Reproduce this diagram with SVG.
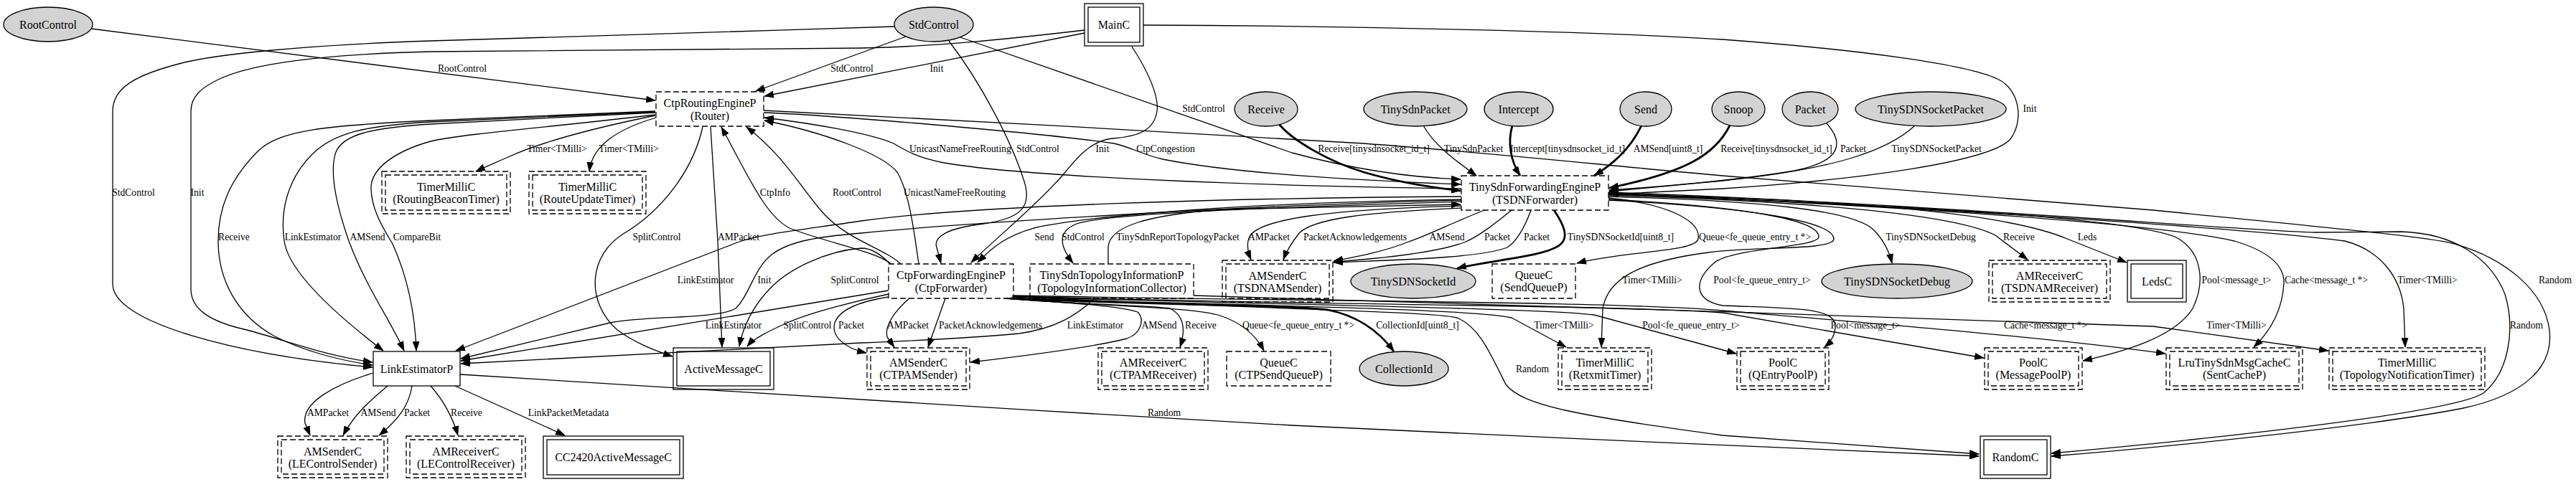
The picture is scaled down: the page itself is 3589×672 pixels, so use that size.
<svg xmlns="http://www.w3.org/2000/svg" width="3589" height="672" viewBox="0 0 3589 672">
<defs>
<marker id="a" markerWidth="14" markerHeight="10" refX="13" refY="5" orient="auto" markerUnits="userSpaceOnUse"><path d="M0,0 L14,5 L0,10 Z" fill="#000"/></marker>
</defs>
<style>
.e path{fill:none;stroke:#000;stroke-width:1.3;marker-end:url(#a)}
.e.b path{stroke-width:2.8}
text{font-family:"Liberation Serif","Times New Roman",serif;text-anchor:middle;dominant-baseline:central;fill:#000}
.e text{font-size:13.6px}
.n text{font-size:16px}
.n rect{stroke:#000;stroke-width:1.3;fill:none}
.n ellipse{stroke:#000;stroke-width:1.3;fill:#d3d3d3}
.d rect{stroke-dasharray:8,4}
</style>
<rect width="3589" height="672" fill="#fff"/>
<g id="edges">
<g class="e"><path d="M127,40 L913,140"/><text x="644" y="95">RootControl</text></g>
<g class="e"><path d="M1262,51 L1053,127"/><text x="1187" y="95">StdControl</text></g>
<g class="e"><path d="M1511,46 L1065,134"/><text x="1305" y="95">Init</text></g>
<g class="e"><path d="M1246,37 C1000,45 700,54 600,57 C420,63 300,76 253,88 C190,104 157,122 157,155 L157,396 C157,450 330,495 519,512"/><text x="186" y="268">StdControl</text></g>
<g class="e"><path d="M1511,42 C1400,55 1300,65 1200,67 L600,72 C480,75 360,85 306,110 C280,122 266,135 266,155 L266,403 C266,430 290,448 344,460 C400,475 450,495 519,505"/><text x="275" y="268">Init</text></g>
<g class="e"><path d="M913,155 L600,168 C450,175 390,182 360,210 C320,250 304,290 304,336 C304,390 330,440 383,469 C420,488 470,502 519,509"/><text x="326" y="330">Receive</text></g>
<g class="e"><path d="M913,156 L600,170 C510,175 465,185 435,215 C400,250 390,295 396,336 C402,380 470,440 534,489"/><text x="436" y="330">LinkEstimator</text></g>
<g class="e"><path d="M913,157 L600,173 C520,178 478,187 468,212 C458,240 470,290 486,336 C510,400 540,440 563,489"/><text x="512" y="330">AMSend</text></g>
<g class="e"><path d="M913,160 C780,176 640,187 600,197 C550,211 517,235 517,262 C517,292 535,320 547,340 C565,380 578,430 580,489"/><text x="581" y="330">CompareBit</text></g>
<g class="e"><path d="M913,161 C820,180 750,200 710,218 C690,227 675,233 663,239"/><text x="776" y="207">Timer&lt;TMilli&gt;</text></g>
<g class="e"><path d="M914,164 C860,180 825,203 821,239"/><text x="876" y="207">Timer&lt;TMilli&gt;</text></g>
<g class="e"><path d="M979,177 C965,240 920,295 870,325 C820,355 815,420 860,460 C885,478 910,488 937,497"/><text x="915" y="330">SplitControl</text></g>
<g class="e"><path d="M990,177 L1000,336 L1006,484"/><text x="1029" y="330">AMPacket</text></g>
<g class="e"><path d="M1064,157 C1150,160 1450,185 1552,200 C1575,205 1590,215 1620,222 C1700,238 1850,250 2035,257"/><text x="1624" y="207">CtpCongestion</text></g>
<g class="e"><path d="M2036,263 C1700,258 1420,245 1315,227 C1280,220 1265,212 1245,200 C1210,185 1130,172 1065,164"/><text x="1338" y="207">UnicastNameFreeRouting</text></g>
<g class="e"><path d="M1064,154 C1300,165 1700,188 1900,200 C2100,215 2250,232 2400,245 L3000,293 C3250,318 3380,330 3420,340 C3490,360 3545,405 3552,460 C3558,510 3520,550 3432,569 C3300,595 3000,625 2858,636"/><text x="3560" y="390">Random</text></g>
<g class="e"><path d="M1242,368 C1220,350 1150,338 1100,318 C1065,300 1040,240 1005,177"/><text x="1080" y="268">CtpInfo</text></g>
<g class="e"><path d="M1255,368 C1230,345 1180,335 1145,295 C1115,260 1090,215 1040,177"/><text x="1194" y="268">RootControl</text></g>
<g class="e"><path d="M1280,368 C1272,310 1265,265 1250,240 C1230,215 1150,185 1065,168"/><text x="1330" y="268">UnicastNameFreeRouting</text></g>
<g class="e"><path d="M1593,35 C1900,36 2250,45 2400,55 C2600,70 2740,90 2783,110 C2815,125 2820,170 2800,195 C2770,225 2600,250 2400,263 L2242,271"/><text x="2828" y="151">Init</text></g>
<g class="e"><path d="M1338,52 L1800,213 C1900,240 1980,248 2035,250"/><text x="1677" y="151">StdControl</text></g>
<g class="e"><path d="M1322,57 C1370,120 1410,200 1426,250 C1440,290 1420,305 1370,312 C1320,318 1300,330 1305,345 L1311,367"/><text x="1446" y="207">StdControl</text></g>
<g class="e"><path d="M1577,65 C1600,100 1615,135 1612,155 C1608,180 1590,190 1550,193 C1520,196 1500,220 1480,245 C1440,290 1390,330 1353,366"/><text x="1536" y="207">Init</text></g>
<g class="e b"><path d="M1782,173 C1800,195 1850,225 1900,240 C1950,255 2000,262 2035,266"/><text x="1914" y="207">Receive[tinysdnsocket_id_t]</text></g>
<g class="e"><path d="M1983,175 C2000,205 2030,225 2057,245"/><text x="2053" y="207">TinySdnPacket</text></g>
<g class="e b"><path d="M2107,175 C2100,200 2105,225 2118,245"/><text x="2184" y="207">Intercept[tinysdnsocket_id_t]</text></g>
<g class="e b"><path d="M2287,175 C2270,210 2245,230 2221,245"/><text x="2324" y="207">AMSend[uint8_t]</text></g>
<g class="e b"><path d="M2410,175 C2390,215 2350,240 2242,262"/><text x="2475" y="207">Receive[tinysdnsocket_id_t]</text></g>
<g class="e"><path d="M2545,172 C2570,200 2565,225 2500,238 C2430,250 2320,260 2242,265"/><text x="2582" y="207">Packet</text></g>
<g class="e"><path d="M2668,175 C2630,210 2560,235 2400,252 L2242,267"/><text x="2698" y="207">TinySDNSocketPacket</text></g>
<g class="e"><path d="M2036,278 C1750,282 1520,300 1440,318 C1405,328 1385,342 1362,366"/><text x="1455" y="330">Send</text></g>
<g class="e"><path d="M2036,281 C1750,290 1540,298 1500,312 C1475,322 1474,340 1495,367"/><text x="1509" y="330">StdControl</text></g>
<g class="e"><path d="M1544,368 L1544,345 C1545,315 1600,300 1700,292 L2035,285"/><text x="1641" y="330">TinySdnReportTopologyPacket</text></g>
<g class="e"><path d="M2036,287 C1850,292 1760,305 1742,328 C1736,338 1738,350 1743,362"/><text x="1768" y="330">AMPacket</text></g>
<g class="e"><path d="M2036,290 C1900,296 1830,305 1810,325 C1800,338 1793,348 1788,362"/><text x="1888" y="330">PacketAcknowledgements</text></g>
<g class="e"><path d="M2068,293 C2020,312 1990,328 1960,338 C1930,350 1895,357 1858,364"/><text x="2016" y="330">AMSend</text></g>
<g class="e"><path d="M2106,293 C2085,310 2060,330 2040,338 C2000,352 1930,360 1858,365"/><text x="2086" y="330">Packet</text></g>
<g class="e"><path d="M2133,293 C2125,315 2115,335 2100,345 C2060,360 1950,362 1858,366"/><text x="2141" y="330">Packet</text></g>
<g class="e b"><path d="M2165,293 C2180,315 2185,330 2175,340 C2155,358 2080,362 2030,374"/><text x="2258" y="330">TinySDNSocketId[uint8_t]</text></g>
<g class="e"><path d="M2241,276 C2330,285 2370,310 2366,333 C2362,352 2260,350 2197,367"/><text x="2445" y="330">Queue&lt;fe_queue_entry_t *&gt;</text></g>
<g class="e"><path d="M2241,279 C2450,290 2555,310 2555,333 C2555,350 2440,343 2380,352 C2280,365 2240,390 2233,430 L2231,484"/><text x="2302" y="390">Timer&lt;TMilli&gt;</text></g>
<g class="e"><path d="M2241,278 C2430,288 2534,306 2534,330 C2534,345 2420,345 2390,365 C2360,390 2358,418 2400,426 C2500,430 2557,428 2557,455 C2557,468 2550,477 2542,484"/><text x="2455" y="390">Pool&lt;fe_queue_entry_t&gt;</text></g>
<g class="e"><path d="M2241,274 C2450,280 2580,292 2610,320 C2625,335 2632,350 2636,367"/><text x="2690" y="330">TinySDNSocketDebug</text></g>
<g class="e"><path d="M2241,272 C2500,280 2720,297 2780,328 L2825,362"/><text x="2813" y="330">Receive</text></g>
<g class="e"><path d="M2241,271 C2500,276 2780,290 2880,333 L2963,366"/><text x="2908" y="330">Leds</text></g>
<g class="e"><path d="M2241,270 C2600,285 2950,300 3030,330 C3070,350 3072,395 3055,430 C3030,470 2960,490 2902,503"/><text x="3116" y="390">Pool&lt;message_t&gt;</text></g>
<g class="e"><path d="M2241,270 C2600,285 3000,310 3113,336 C3160,350 3183,370 3182,395 C3180,430 3165,460 3140,484"/><text x="3241" y="390">Cache&lt;message_t *&gt;</text></g>
<g class="e"><path d="M2241,269 C2600,285 3100,315 3267,336 C3320,350 3345,390 3349,430 L3351,484"/><text x="3382" y="390">Timer&lt;TMilli&gt;</text></g>
<g class="e"><path d="M2241,268 C2700,285 3100,320 3225,324 L3345,323 C3420,325 3470,360 3490,410 C3505,460 3495,520 3460,548 C3420,575 3100,610 2858,632"/><text x="3520" y="453">Random</text></g>
<g class="e"><path d="M2036,274 C1700,276 1350,287 1200,308 C1120,320 1060,326 1030,337 L635,489"/><text x="983" y="390">LinkEstimator</text></g>
<g class="e"><path d="M2036,279 C1700,287 1300,315 1200,325 C1140,330 1100,336 1075,355 C1050,375 1045,410 1025,430 C1000,445 900,440 850,450 L642,500"/><text x="1065" y="390">Init</text></g>
<g class="e"><path d="M1240,368 C1225,352 1212,346 1200,346 C1150,350 1100,375 1075,400 C1050,425 1035,455 1030,483"/><text x="1191" y="390">SplitControl</text></g>
<g class="e"><path d="M1238,410 C1200,418 1130,435 1097,450 C1070,462 1050,472 1041,483"/><text x="1125" y="453">SplitControl</text></g>
<g class="e"><path d="M1238,405 L642,503"/><text x="1022" y="453">LinkEstimator</text></g>
<g class="e"><path d="M1238,414 C1200,420 1170,430 1163,450 C1158,468 1175,485 1207,492"/><text x="1186" y="453">Packet</text></g>
<g class="e"><path d="M1267,416 C1245,435 1232,455 1236,470 L1246,484"/><text x="1265" y="453">AMPacket</text></g>
<g class="e"><path d="M1317,416 L1293,484"/><text x="1380" y="453">PacketAcknowledgements</text></g>
<g class="e"><path d="M1399,416 C1450,420 1560,425 1585,435 C1595,445 1590,465 1570,472 C1520,485 1420,497 1352,505"/><text x="1615" y="453">AMSend</text></g>
<g class="e"><path d="M1403,416 C1500,425 1600,425 1630,430 C1650,440 1652,460 1644,484"/><text x="1673" y="453">Receive</text></g>
<g class="e"><path d="M1406,416 C1550,428 1660,428 1700,440 C1730,450 1750,468 1761,489"/><text x="1809" y="453">Queue&lt;fe_queue_entry_t *&gt;</text></g>
<g class="e b"><path d="M1408,416 C1600,425 1800,425 1850,432 C1890,440 1920,460 1942,490"/><text x="1975" y="453">CollectionId[uint8_t]</text></g>
<g class="e"><path d="M1410,416 C1700,425 2050,430 2106,443 L2182,484"/><text x="2179" y="453">Timer&lt;TMilli&gt;</text></g>
<g class="e"><path d="M1410,413 C1700,430 1990,433 2030,443 C2060,455 2075,490 2098,536 C2120,565 2200,580 2400,607 L2757,633"/><text x="2135" y="514">Random</text></g>
<g class="e"><path d="M1412,414 C1800,425 2150,430 2221,439 L2419,493"/><text x="2356" y="453">Pool&lt;fe_queue_entry_t&gt;</text></g>
<g class="e"><path d="M1412,413 C1800,425 2250,425 2400,436 L2764,499"/><text x="2599" y="453">Pool&lt;message_t&gt;</text></g>
<g class="e"><path d="M1412,412 C1800,420 2250,420 2400,433 C2600,450 2850,470 3017,493"/><text x="2850" y="453">Cache&lt;message_t *&gt;</text></g>
<g class="e"><path d="M1525,416 C1500,440 1470,458 1420,465 C1350,472 1250,476 1200,478 L642,507"/><text x="1526" y="453">LinkEstimator</text></g>
<g class="e"><path d="M1663,412 C2000,425 2600,438 3000,455 L3244,489"/><text x="3116" y="453">Timer&lt;TMilli&gt;</text></g>
<g class="e"><path d="M520,520 C470,535 420,560 425,590 L432,607"/><text x="457" y="575">AMPacket</text></g>
<g class="e"><path d="M540,538 C520,555 495,575 478,607"/><text x="527" y="575">AMSend</text></g>
<g class="e"><path d="M574,538 C570,565 555,585 528,607"/><text x="581" y="575">Packet</text></g>
<g class="e"><path d="M600,538 C615,555 630,580 638,607"/><text x="650" y="575">Receive</text></g>
<g class="e"><path d="M634,538 L787,607"/><text x="792" y="575">LinkPacketMetadata</text></g>
<g class="e"><path d="M641,522 C900,540 1400,570 1800,593 C2100,608 2500,625 2757,636"/><text x="1622" y="575">Random</text></g>
</g>
<g id="RootControl" class="n"><ellipse cx="67" cy="34" rx="62" ry="24"/><text x="67" y="34">RootControl</text></g>
<g id="StdControl" class="n"><ellipse cx="1301" cy="34" rx="55" ry="24"/><text x="1301" y="34">StdControl</text></g>
<g id="MainC" class="n"><rect x="1511" y="5" width="82" height="59"/><rect x="1516" y="10" width="72" height="49"/><text x="1552" y="34.5">MainC</text></g>
<g id="CtpRoutingEngineP" class="n d"><rect x="914" y="128" width="150" height="48"/><text x="989" y="143">CtpRoutingEngineP</text><text x="989" y="161">(Router)</text></g>
<g id="RoutingBeaconTimer" class="n d"><rect x="532" y="239" width="179" height="59"/><rect x="537" y="244" width="169" height="49"/><text x="621.5" y="260">TimerMilliC</text><text x="621.5" y="277">(RoutingBeaconTimer)</text></g>
<g id="RouteUpdateTimer" class="n d"><rect x="737" y="239" width="163" height="59"/><rect x="742" y="244" width="153" height="49"/><text x="818.5" y="260">TimerMilliC</text><text x="818.5" y="277">(RouteUpdateTimer)</text></g>
<g id="Receive" class="n"><ellipse cx="1764" cy="152" rx="44" ry="24"/><text x="1764" y="152">Receive</text></g>
<g id="TinySdnPacket" class="n"><ellipse cx="1972" cy="152" rx="72" ry="24"/><text x="1972" y="152">TinySdnPacket</text></g>
<g id="Intercept" class="n"><ellipse cx="2116" cy="152" rx="48" ry="24"/><text x="2116" y="152">Intercept</text></g>
<g id="Send" class="n"><ellipse cx="2293" cy="152" rx="36" ry="24"/><text x="2293" y="152">Send</text></g>
<g id="Snoop" class="n"><ellipse cx="2422" cy="152" rx="37" ry="24"/><text x="2422" y="152">Snoop</text></g>
<g id="Packet" class="n"><ellipse cx="2522" cy="152" rx="39" ry="24"/><text x="2522" y="152">Packet</text></g>
<g id="TinySDNSocketPacket" class="n"><ellipse cx="2690" cy="152" rx="105" ry="24"/><text x="2690" y="152">TinySDNSocketPacket</text></g>
<g id="TinySdnForwardingEngineP" class="n d"><rect x="2036" y="245" width="205" height="48"/><text x="2138.5" y="260">TinySdnForwardingEngineP</text><text x="2138.5" y="278">(TSDNForwarder)</text></g>
<g id="LinkEstimatorP" class="n"><rect x="520" y="490" width="121" height="48"/><text x="580.5" y="514">LinkEstimatorP</text></g>
<g id="LEControlSender" class="n d"><rect x="387" y="608" width="153" height="58"/><rect x="392" y="613" width="143" height="48"/><text x="463.5" y="629">AMSenderC</text><text x="463.5" y="646">(LEControlSender)</text></g>
<g id="LEControlReceiver" class="n d"><rect x="566" y="608" width="166" height="58"/><rect x="571" y="613" width="156" height="48"/><text x="649" y="629">AMReceiverC</text><text x="649" y="646">(LEControlReceiver)</text></g>
<g id="ActiveMessageC" class="n"><rect x="938" y="485" width="140" height="58"/><rect x="943" y="490" width="130" height="48"/><text x="1008" y="514">ActiveMessageC</text></g>
<g id="CC2420ActiveMessageC" class="n"><rect x="757" y="608" width="195" height="59"/><rect x="762" y="613" width="185" height="49"/><text x="854.5" y="637.5">CC2420ActiveMessageC</text></g>
<g id="CtpForwardingEngineP" class="n d"><rect x="1238" y="368" width="174" height="48"/><text x="1325" y="383">CtpForwardingEngineP</text><text x="1325" y="401">(CtpForwarder)</text></g>
<g id="TinySdnTopologyInformationP" class="n d"><rect x="1435" y="368" width="228" height="48"/><text x="1549" y="383">TinySdnTopologyInformationP</text><text x="1549" y="401">(TopologyInformationCollector)</text></g>
<g id="TSDNAMSender" class="n d"><rect x="1703" y="363" width="154" height="58"/><rect x="1708" y="368" width="144" height="48"/><text x="1780" y="384">AMSenderC</text><text x="1780" y="401">(TSDNAMSender)</text></g>
<g id="CTPAMSender" class="n d"><rect x="1208" y="485" width="143" height="58"/><rect x="1213" y="490" width="133" height="48"/><text x="1279.5" y="505">AMSenderC</text><text x="1279.5" y="522">(CTPAMSender)</text></g>
<g id="CTPAMReceiver" class="n d"><rect x="1530" y="485" width="153" height="58"/><rect x="1535" y="490" width="143" height="48"/><text x="1606.5" y="505">AMReceiverC</text><text x="1606.5" y="522">(CTPAMReceiver)</text></g>
<g id="CTPSendQueueP" class="n d"><rect x="1709" y="490" width="145" height="48"/><text x="1781.5" y="505">QueueC</text><text x="1781.5" y="522">(CTPSendQueueP)</text></g>
<g id="TinySDNSocketId" class="n"><ellipse cx="1969" cy="392" rx="87" ry="24"/><text x="1969" y="392">TinySDNSocketId</text></g>
<g id="SendQueueP" class="n d"><rect x="2079" y="368" width="116" height="48"/><text x="2137" y="383">QueueC</text><text x="2137" y="400">(SendQueueP)</text></g>
<g id="CollectionId" class="n"><ellipse cx="1956" cy="514" rx="62" ry="24"/><text x="1956" y="514">CollectionId</text></g>
<g id="RetxmitTimer" class="n d"><rect x="2171" y="485" width="130" height="58"/><rect x="2176" y="490" width="120" height="48"/><text x="2236" y="505">TimerMilliC</text><text x="2236" y="522">(RetxmitTimer)</text></g>
<g id="TinySDNSocketDebug" class="n"><ellipse cx="2643" cy="392" rx="105" ry="24"/><text x="2643" y="392">TinySDNSocketDebug</text></g>
<g id="TSDNAMReceiver" class="n d"><rect x="2771" y="363" width="169" height="58"/><rect x="2776" y="368" width="159" height="48"/><text x="2855.5" y="384">AMReceiverC</text><text x="2855.5" y="401">(TSDNAMReceiver)</text></g>
<g id="LedsC" class="n"><rect x="2964" y="363" width="82" height="58"/><rect x="2969" y="368" width="72" height="48"/><text x="3005" y="392">LedsC</text></g>
<g id="QEntryPoolP" class="n d"><rect x="2420" y="485" width="128" height="58"/><rect x="2425" y="490" width="118" height="48"/><text x="2484" y="505">PoolC</text><text x="2484" y="522">(QEntryPoolP)</text></g>
<g id="MessagePoolP" class="n d"><rect x="2765" y="485" width="136" height="58"/><rect x="2770" y="490" width="126" height="48"/><text x="2833" y="505">PoolC</text><text x="2833" y="522">(MessagePoolP)</text></g>
<g id="RandomC" class="n"><rect x="2759" y="608" width="98" height="59"/><rect x="2764" y="613" width="88" height="49"/><text x="2808" y="637.5">RandomC</text></g>
<g id="SentCacheP" class="n d"><rect x="3018" y="485" width="190" height="58"/><rect x="3023" y="490" width="180" height="48"/><text x="3113" y="505">LruTinySdnMsgCacheC</text><text x="3113" y="522">(SentCacheP)</text></g>
<g id="TopologyNotificationTimer" class="n d"><rect x="3245" y="485" width="217" height="58"/><rect x="3250" y="490" width="207" height="48"/><text x="3353.5" y="505">TimerMilliC</text><text x="3353.5" y="522">(TopologyNotificationTimer)</text></g>
</svg>
